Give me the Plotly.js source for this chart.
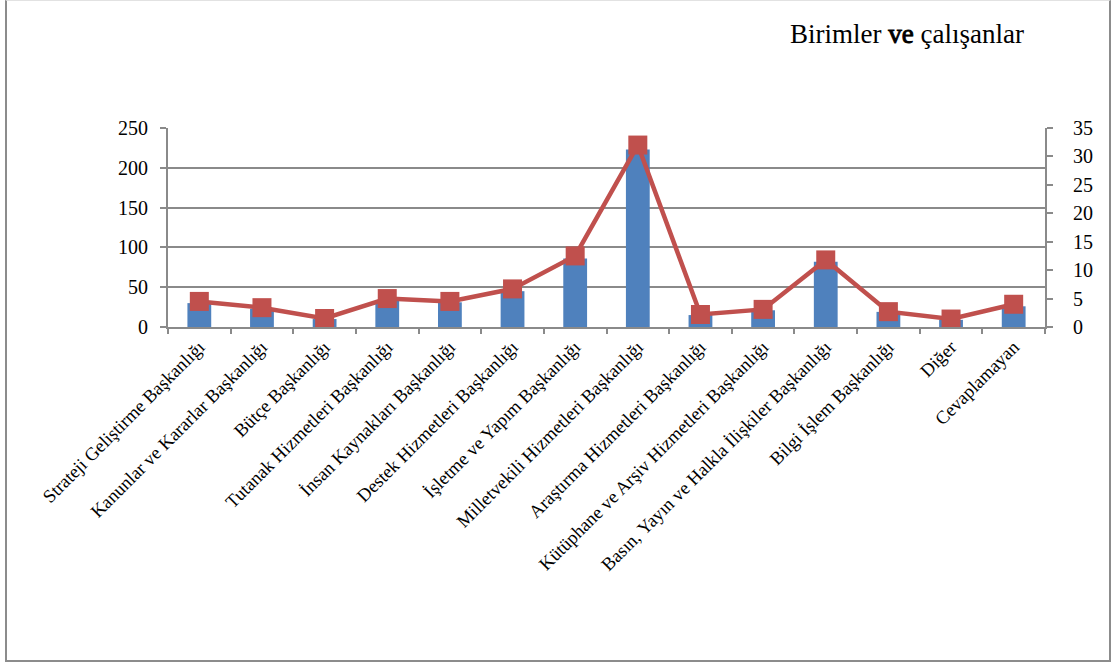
<!DOCTYPE html>
<html>
<head>
<meta charset="utf-8">
<script src="https://cdn.plot.ly/plotly-3.0.1.min.js"></script>
<style>
  html, body { margin: 0; padding: 0; background: #ffffff; }
  #wrap { position: relative; width: 1115px; height: 666px; }
  #chart { position: absolute; left: 0; top: 0; width: 1115px; height: 666px; }
  #frame {
    position: absolute; left: 5px; top: 0; width: 1102px; height: 659px;
    border-left: 2px solid #8c8c8c; border-right: 2px solid #8c8c8c;
    border-bottom: 2px solid #8c8c8c; border-top: 1px solid #e2e2e2;
    pointer-events: none;
  }
</style>
</head>
<body>
<div id="wrap">
  <div id="chart"></div>
  <div id="frame"></div>
</div>
<script>
// Units of the organisation
const categories = [
  "Strateji Geliştirme Başkanlığı",
  "Kanunlar ve Kararlar Başkanlığı",
  "Bütçe Başkanlığı",
  "Tutanak Hizmetleri Başkanlığı",
  "İnsan Kaynakları Başkanlığı",
  "Destek Hizmetleri Başkanlığı",
  "İşletme ve Yapım Başkanlığı",
  "Milletvekili Hizmetleri Başkanlığı",
  "Araştırma Hizmetleri Başkanlığı",
  "Kütüphane ve Arşiv Hizmetleri Başkanlığı",
  "Basın, Yayın ve Halkla İlişkiler Başkanlığı",
  "Bilgi İşlem Başkanlığı",
  "Diğer",
  "Cevaplamayan"
];

// Number of employees per unit (left axis)
const employees = [30, 23, 10, 34, 31, 45, 86, 223, 15, 21, 82, 19, 9, 26];

// Share per unit (right axis)
const share = [4.5, 3.4, 1.5, 5.0, 4.5, 6.7, 12.5, 32.0, 2.2, 3.1, 11.8, 2.7, 1.4, 4.0];

const leftTicks = [0, 50, 100, 150, 200, 250];
const rightTicks = [0, 5, 10, 15, 20, 25, 30, 35];

const serif = "Liberation Serif, Times New Roman, serif";
const gridColor = "#8a8a8a";

const traces = [
  {
    type: "bar",
    x: categories,
    y: employees,
    marker: { color: "#4f81bd", line: { width: 0 } },
    yaxis: "y",
    hoverinfo: "x+y"
  },
  {
    type: "scatter",
    mode: "lines+markers",
    x: categories,
    y: share,
    yaxis: "y2",
    line: { color: "#c0504d", width: 4.5 },
    marker: { symbol: "square", size: 19, color: "#c0504d", line: { color: "#c0504d", width: 0 } },
    cliponaxis: false,
    hoverinfo: "x+y"
  }
];

const layout = {
  width: 1115,
  height: 666,
  paper_bgcolor: "#ffffff",
  plot_bgcolor: "#ffffff",
  showlegend: false,
  bargap: 0.62,
  margin: { l: 168, r: 70, t: 128, b: 339, pad: 0 },
  font: { family: serif, color: "#000000", size: 18 },
  title: {
    // the heavier word is drawn with a thin outline in the serif face
    text: "Birimler <span style=\"stroke:#000000;stroke-width:0.9px\">ve</span> çalışanlar",
    font: { family: serif, size: 27, color: "#000000" },
    xref: "container", yref: "container",
    x: 0.8135, xanchor: "center",
    y: 0.95, yanchor: "middle"
  },
  xaxis: {
    type: "category",
    range: [-0.5, categories.length - 0.5],
    tickangle: -45,
    ticks: "outside",
    tickson: "boundaries",
    ticklen: 5,
    tickcolor: gridColor,
    tickwidth: 2,
    showline: true,
    linecolor: gridColor,
    linewidth: 2,
    showgrid: false,
    tickfont: { family: serif, size: 18.5, color: "#000000" },
    fixedrange: true
  },
  yaxis: {
    range: [0, 250],
    tickvals: leftTicks,
    ticks: "outside",
    ticklen: 6,
    tickcolor: gridColor,
    tickwidth: 2,
    ticklabelstandoff: 8,
    showline: true,
    linecolor: gridColor,
    linewidth: 2,
    showgrid: true,
    gridcolor: gridColor,
    gridwidth: 2,
    zeroline: false,
    tickfont: { family: serif, size: 20, color: "#000000" },
    fixedrange: true
  },
  yaxis2: {
    overlaying: "y",
    side: "right",
    range: [0, 35],
    tickvals: rightTicks,
    ticks: "outside",
    ticklen: 6,
    tickcolor: gridColor,
    tickwidth: 2,
    ticklabelstandoff: 16,
    showline: true,
    linecolor: gridColor,
    linewidth: 2,
    showgrid: false,
    zeroline: false,
    tickfont: { family: serif, size: 20, color: "#000000" },
    fixedrange: true
  }
};

Plotly.newPlot("chart", traces, layout, { displayModeBar: false, staticPlot: true });
</script>
</body>
</html>
